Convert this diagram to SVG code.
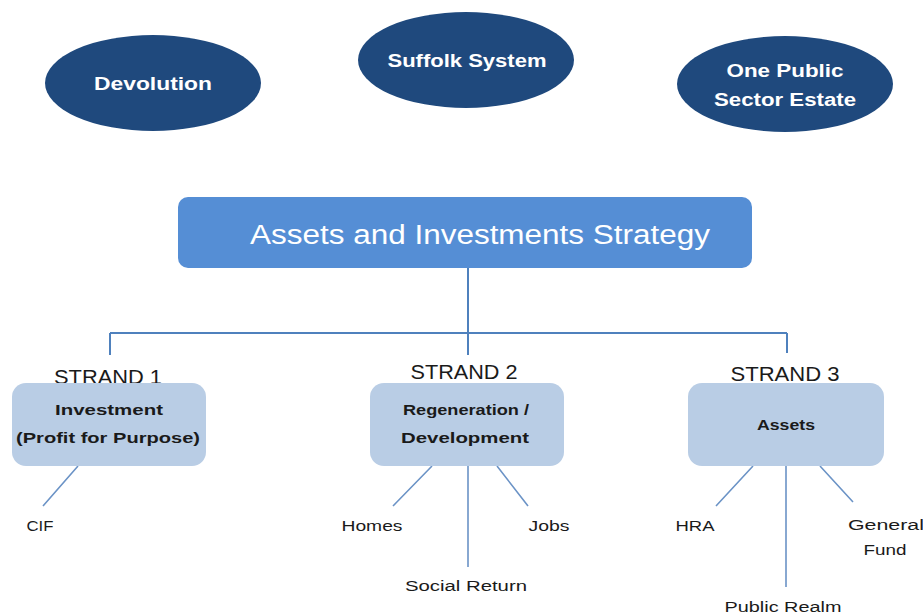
<svg xmlns="http://www.w3.org/2000/svg" width="923" height="614" viewBox="0 0 923 614">
<style>
.oval{fill:#1F497D;}
.ot{fill:#fff;font-family:"Liberation Sans",Arial,sans-serif;font-weight:bold;font-size:18px;text-anchor:middle;}
.main{fill:#558ED5;}
.mt{fill:#fff;font-family:"Liberation Sans",Arial,sans-serif;font-size:27px;text-anchor:middle;}
.sb{fill:#B9CDE5;}
.st{fill:#1a1a1a;font-family:"Liberation Sans",Arial,sans-serif;font-weight:bold;font-size:15px;text-anchor:middle;}
.sl{fill:#1a1a1a;font-family:"Liberation Sans",Arial,sans-serif;font-size:20px;text-anchor:middle;}
.lt{fill:#1a1a1a;font-family:"Liberation Sans",Arial,sans-serif;font-size:14px;text-anchor:middle;}
.c{stroke:#4F81BD;stroke-width:2;fill:none;}
.l{stroke:#6B93C6;stroke-width:1.6;fill:none;}
</style>
<rect width="923" height="614" fill="#fff"/>
<g id="devolution"><ellipse class="oval" cx="153" cy="83" rx="108" ry="48"/><text class="ot" x="153" y="90" textLength="118" lengthAdjust="spacingAndGlyphs">Devolution</text></g>
<g id="suffolk-system"><ellipse class="oval" cx="466" cy="60" rx="108" ry="48"/><text class="ot" x="467" y="67" textLength="159" lengthAdjust="spacingAndGlyphs">Suffolk System</text></g>
<g id="one-public-sector-estate"><ellipse class="oval" cx="785" cy="84" rx="108" ry="48"/><text class="ot" x="785" y="77" textLength="117" lengthAdjust="spacingAndGlyphs">One Public</text><text class="ot" x="785" y="106" textLength="142" lengthAdjust="spacingAndGlyphs">Sector Estate</text></g>
<g id="connectors">
<path class="c" d="M468 268V333M110 333H787M110 333V355M468 333V355M787 333V353"/>
<path class="l" d="M78 466L43 506M432 466L393 506M468 466V567M497 466L528 506M753 466L716 506M786 466V587M820 466L853 502"/>
</g>
<g id="strategy"><rect class="main" x="178" y="197" width="574" height="71" rx="10"/><text class="mt" x="480" y="244" textLength="460" lengthAdjust="spacingAndGlyphs">Assets and  Investments Strategy</text></g>
<g id="strand1"><text class="sl" x="108" y="384" textLength="108" lengthAdjust="spacingAndGlyphs">STRAND 1</text><rect class="sb" x="12" y="383" width="194" height="83" rx="14"/><text class="st" x="109" y="415" textLength="108" lengthAdjust="spacingAndGlyphs">Investment</text><text class="st" x="108" y="443" textLength="184" lengthAdjust="spacingAndGlyphs">(Profit for Purpose)</text></g>
<g id="strand2"><text class="sl" x="464" y="379" textLength="107" lengthAdjust="spacingAndGlyphs">STRAND 2</text><rect class="sb" x="370" y="383" width="194" height="83" rx="14"/><text class="st" x="466" y="415" textLength="126" lengthAdjust="spacingAndGlyphs">Regeneration /</text><text class="st" x="465" y="443" textLength="128" lengthAdjust="spacingAndGlyphs">Development</text></g>
<g id="strand3"><text class="sl" x="785" y="381" textLength="109" lengthAdjust="spacingAndGlyphs">STRAND 3</text><rect class="sb" x="688" y="383" width="196" height="83" rx="14"/><text class="st" x="786" y="430" textLength="58" lengthAdjust="spacingAndGlyphs">Assets</text></g>
<g id="cif"><text class="lt" x="40" y="531" textLength="27" lengthAdjust="spacingAndGlyphs">CIF</text></g>
<g id="homes"><text class="lt" x="372" y="531" textLength="61" lengthAdjust="spacingAndGlyphs">Homes</text></g>
<g id="jobs"><text class="lt" x="549" y="531" textLength="41" lengthAdjust="spacingAndGlyphs">Jobs</text></g>
<g id="social-return"><text class="lt" x="466" y="591" textLength="122" lengthAdjust="spacingAndGlyphs">Social Return</text></g>
<g id="hra"><text class="lt" x="695" y="531" textLength="39" lengthAdjust="spacingAndGlyphs">HRA</text></g>
<g id="public-realm"><text class="lt" x="783" y="612" textLength="117" lengthAdjust="spacingAndGlyphs">Public Realm</text></g>
<g id="general-fund"><text class="lt" x="886" y="530" textLength="76" lengthAdjust="spacingAndGlyphs">General</text><text class="lt" x="885" y="555" textLength="43" lengthAdjust="spacingAndGlyphs">Fund</text></g>
</svg>
